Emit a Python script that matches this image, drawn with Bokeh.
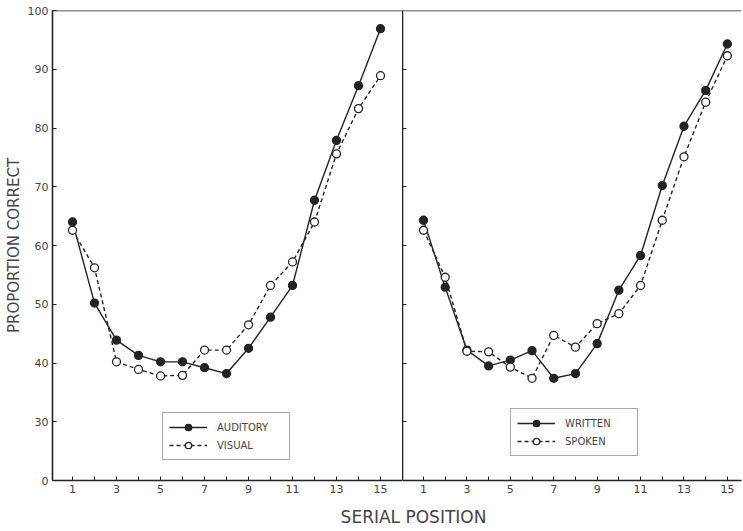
from bokeh.plotting import figure
from bokeh.models import FixedTicker, Span, Legend, LegendItem, Label, Range1d
from bokeh.layouts import row, column
from bokeh.embed import file_html
from bokeh.resources import INLINE

# ---- data ----
positions = list(range(1, 16))
auditory = [64.0, 50.2, 43.9, 41.3, 40.2, 40.2, 39.2, 38.2, 42.5, 47.8, 53.2, 67.7, 77.9, 87.2, 96.9]
visual = [62.6, 56.2, 40.2, 38.9, 37.8, 37.9, 42.2, 42.2, 46.5, 53.2, 57.2, 64.0, 75.6, 83.3, 88.9]
written = [64.3, 52.9, 42.2, 39.5, 40.5, 42.1, 37.4, 38.2, 43.3, 52.4, 58.3, 70.2, 80.3, 86.4, 94.3]
spoken = [62.6, 54.6, 42.0, 41.9, 39.3, 37.4, 44.7, 42.7, 46.7, 48.4, 53.2, 64.3, 75.1, 84.4, 92.3]

y_ticks = [20, 30, 40, 50, 60, 70, 80, 90, 100]
y_tick_labels = {20: "0"}          # broken axis: the bottom tick reads 0
x_labeled_ticks = [1, 3, 5, 7, 9, 11, 13, 15]
x_unlabeled_ticks = [2, 4, 6, 8, 10, 12, 14]

left_series = [("AUDITORY", auditory, True), ("VISUAL", visual, False)]
right_series = [("WRITTEN", written, True), ("SPOKEN", spoken, False)]

INK = "#232323"
TXT = "#444444"
FONT = "DejaVu Sans"


def style_axes(p, show_y_labels):
    xa = p.xaxis[0]
    xa.ticker = FixedTicker(ticks=x_labeled_ticks, minor_ticks=x_unlabeled_ticks)
    xa.major_tick_in = 4
    xa.major_tick_out = 0
    xa.minor_tick_in = 4
    xa.minor_tick_out = 0
    xa.axis_line_color = INK
    xa.axis_line_width = 1.6
    xa.major_tick_line_color = INK
    xa.minor_tick_line_color = INK
    xa.major_label_text_font = FONT
    xa.major_label_text_font_size = "11px"
    xa.major_label_text_color = TXT
    xa.major_label_standoff = 4

    ya = p.yaxis[0]
    ya.major_tick_in = 4
    ya.major_tick_out = 0
    ya.minor_tick_in = 4
    ya.minor_tick_out = 0
    ya.axis_line_color = INK
    ya.axis_line_width = 1.6
    ya.major_tick_line_color = INK
    ya.minor_tick_line_color = INK
    if show_y_labels:
        ya.ticker = FixedTicker(ticks=y_ticks)
        ya.major_label_overrides = {k: v for k, v in y_tick_labels.items()}
        ya.major_label_text_font = FONT
        ya.major_label_text_font_size = "11px"
        ya.major_label_text_color = TXT
        ya.major_label_standoff = 4
        ya.axis_label = "PROPORTION CORRECT"
        ya.axis_label_text_font = FONT
        ya.axis_label_text_font_style = "normal"
        ya.axis_label_text_font_size = "15px"
        ya.axis_label_text_color = TXT
        ya.axis_label_standoff = 2
    else:
        # divider axis: tick marks only, no labels
        ya.ticker = FixedTicker(ticks=[], minor_ticks=y_ticks[1:-1])
        ya.major_label_standoff = 0


def panel(series, width, x_range, y_label, legend_loc, min_left, min_right):
    p = figure(width=width, height=497, x_range=x_range, y_range=Range1d(20, 100),
               output_backend="svg", toolbar_location=None,
               min_border_left=min_left, min_border_right=min_right,
               min_border_top=10, min_border_bottom=17)
    p.outline_line_color = None
    p.grid.visible = False
    p.background_fill_color = "white"
    p.border_fill_color = "white"
    p.add_layout(Span(location=100, dimension="width", line_color=INK, line_width=1.6))
    style_axes(p, y_label)
    items = []
    for name, vals, filled in series:
        dash = "solid" if filled else "4 3"
        ln = p.line(positions, vals, line_color=INK, line_width=1.4, line_dash=dash)
        sc = p.scatter(positions, vals, size=8, marker="circle", line_color=INK, line_width=1.3,
                       fill_color=INK if filled else "white")
        items.append(LegendItem(label=name, renderers=[ln, sc]))
    leg = Legend(items=items, location=legend_loc, margin=0, padding=6, spacing=2,
                 glyph_width=38, glyph_height=16, label_height=16, label_width=66,
                 label_standoff=10, label_text_font=FONT, label_text_font_size="10px",
                 label_text_color=TXT, border_line_color="#555555", border_line_width=1,
                 background_fill_color="white", background_fill_alpha=1)
    p.add_layout(leg)
    return p


p1 = panel(left_series, 402, Range1d(0.09, 16.0), True, (110, 20), 52, 0)
p2 = panel(right_series, 341, Range1d(0.033, 15.65), False, (108, 24), 0, 2)

p3 = figure(width=743, height=33, output_backend="svg", toolbar_location=None,
            x_axis_location=None, y_axis_location=None,
            min_border_left=0, min_border_right=0, min_border_top=0, min_border_bottom=0)
p3.outline_line_color = None
p3.grid.visible = False
p3.add_layout(Label(x=413, y=14, x_units="screen", y_units="screen", text="SERIAL POSITION",
                    text_align="center", text_baseline="middle", text_font=FONT,
                    text_font_size="17px", text_color=TXT))

layout = column(row(p1, p2), p3)
open("out.html", "w").write(file_html(layout, INLINE))
